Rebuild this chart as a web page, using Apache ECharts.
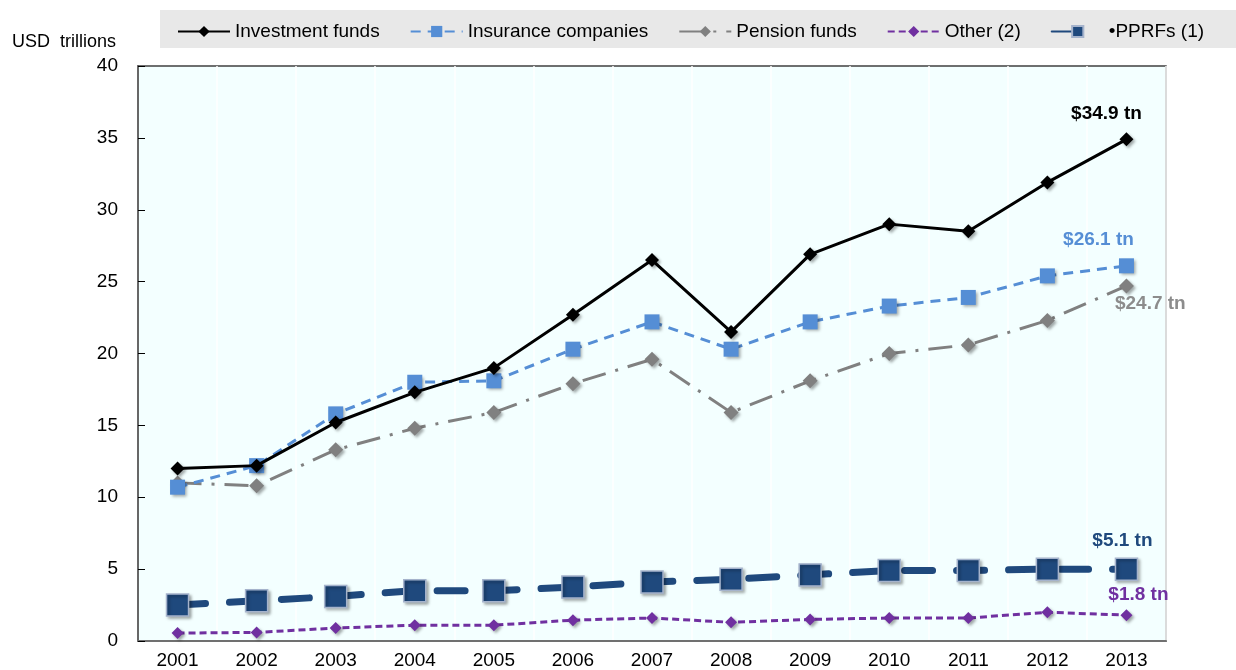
<!DOCTYPE html>
<html>
<head>
<meta charset="utf-8">
<script src="https://cdn.jsdelivr.net/npm/echarts@6/dist/echarts.min.js"></script>
<style>
  html, body { margin: 0; padding: 0; background: #fff; }
  #chart { width: 1236px; height: 670px; }
</style>
</head>
<body>
<div id="chart"></div>
<script>
// years on the x axis
var years = ['2001', '2002', '2003', '2004', '2005', '2006', '2007', '2008', '2009', '2010', '2011', '2012', '2013'];

// USD trillions
var investmentFunds = [12.0, 12.2, 15.2, 17.3, 19.0, 22.7, 26.5, 21.5, 26.9, 29.0, 28.5, 31.9, 34.9];
var insuranceCompanies = [10.7, 12.2, 15.8, 18.0, 18.1, 20.3, 22.2, 20.3, 22.2, 23.3, 23.9, 25.4, 26.1];
var pensionFunds = [11.0, 10.8, 13.3, 14.8, 15.9, 17.9, 19.6, 15.9, 18.1, 20.0, 20.6, 22.3, 24.7];
var otherInvestors = [0.55, 0.6, 0.9, 1.1, 1.1, 1.45, 1.6, 1.3, 1.5, 1.6, 1.6, 2.0, 1.8];
var pprfs = [2.5, 2.8, 3.1, 3.5, 3.5, 3.75, 4.1, 4.3, 4.6, 4.9, 4.9, 5.0, 5.0];

// labels shown next to the 2013 points
var endLabels = ['$34.9 tn', '$26.1 tn', '$24.7 tn', '$1.8 tn', '$5.1 tn'];

var font = '"Liberation Sans Narrow", "Arial Narrow", "Liberation Sans", Arial, sans-serif';

var shadow = {
    shadowColor: 'rgba(0,0,0,0.35)',
    shadowBlur: 3,
    shadowOffsetX: 2,
    shadowOffsetY: 2
};

// puts the end label on the last point of a series
function withEndLabel(values, text, color, position, offset) {
    return values.map(function (v, i) {
        if (i !== values.length - 1) return v;
        return {
            value: v,
            label: {
                show: true,
                formatter: text,
                color: color,
                fontFamily: font,
                fontWeight: 'bold',
                fontSize: 19,
                position: position,
                offset: offset
            }
        };
    });
}

var chart = echarts.init(document.getElementById('chart'));

var option = {
    animation: false,
    textStyle: { fontFamily: font },
    graphic: [
        {
            type: 'rect',
            left: 160, top: 10,
            shape: { width: 1076, height: 38 },
            style: { fill: '#E8E8E8' },
            z: -1
        },
        {
            type: 'text',
            left: 12, top: 33,
            style: { text: 'USD  trillions', fontSize: 18, fontFamily: font, fill: '#000' }
        }
    ],
    legend: {
        top: 17,
        left: 172,
        itemGap: 30,
        itemWidth: 52,
        itemHeight: 14,
        textStyle: { fontSize: 19, color: '#000', fontFamily: font },
        data: ['Investment funds', 'Insurance companies', 'Pension funds', 'Other (2)', 'PPRFs (1)'],
        formatter: function (name) {
            return name === 'PPRFs (1)' ? '\u2022PPRFs (1)' : name;
        }
    },
    grid: {
        left: 138, top: 66, right: 70, bottom: 29,
        show: true,
        backgroundColor: '#F3FFFF',
        borderColor: '#404040',
        borderWidth: 1.5
    },
    xAxis: {
        type: 'category',
        data: years,
        boundaryGap: true,
        axisLine: { lineStyle: { color: '#707070', width: 2 } },
        axisTick: { inside: true, length: 7, lineStyle: { color: '#000' } },
        axisLabel: { fontSize: 19, color: '#000', margin: 10, fontFamily: font },
        splitLine: { show: true, lineStyle: { color: '#ffffff', width: 1.5 } }
    },
    yAxis: {
        type: 'value',
        min: 0, max: 40, interval: 5,
        axisLine: { show: true, lineStyle: { color: '#404040', width: 1.5 } },
        axisTick: { show: true, inside: true, length: 7, lineStyle: { color: '#000' } },
        axisLabel: { fontSize: 19, color: '#000', margin: 20, fontFamily: font },
        splitLine: { show: false }
    },
    series: [
        {
            name: 'Other (2)',
            type: 'line',
            data: withEndLabel(otherInvestors, endLabels[3], '#7030A0', 'top', [12, 0]),
            symbol: 'diamond',
            symbolSize: 12,
            lineStyle: { color: '#7030A0', width: 3, type: [7, 4] },
            itemStyle: Object.assign({ color: '#7030A0' }, shadow),
            z: 3
        },
        {
            name: 'PPRFs (1)',
            type: 'line',
            data: withEndLabel(pprfs, endLabels[4], '#1F497D', 'top', [-4, -2]),
            symbol: 'rect',
            symbolSize: 22,
            lineStyle: { color: '#1F497D', width: 7, type: [28, 24], cap: 'round' },
            itemStyle: Object.assign({ color: '#1F497D', borderColor: '#A5B3CC', borderWidth: 1.5 }, shadow),
            z: 4
        },
        {
            name: 'Pension funds',
            type: 'line',
            data: withEndLabel(pensionFunds, endLabels[2], '#8C8C8C', 'right', [-24, 18]),
            symbol: 'diamond',
            symbolSize: 15,
            lineStyle: { color: '#808080', width: 3, type: [24, 10, 3, 10] },
            itemStyle: Object.assign({ color: '#808080' }, shadow),
            z: 5
        },
        {
            name: 'Insurance companies',
            type: 'line',
            data: withEndLabel(insuranceCompanies, endLabels[1], '#558ED5', 'top', [-28, -4]),
            symbol: 'rect',
            symbolSize: 15,
            lineStyle: { color: '#558ED5', width: 3, type: [10, 7] },
            itemStyle: Object.assign({ color: '#558ED5' }, shadow),
            z: 6
        },
        {
            name: 'Investment funds',
            type: 'line',
            data: withEndLabel(investmentFunds, endLabels[0], '#000000', 'top', [-20, -4]),
            symbol: 'diamond',
            symbolSize: 14,
            lineStyle: { color: '#000000', width: 3 },
            itemStyle: Object.assign({ color: '#000000' }, shadow),
            z: 7
        }
    ]
};

chart.setOption(option);
</script>
</body>
</html>
